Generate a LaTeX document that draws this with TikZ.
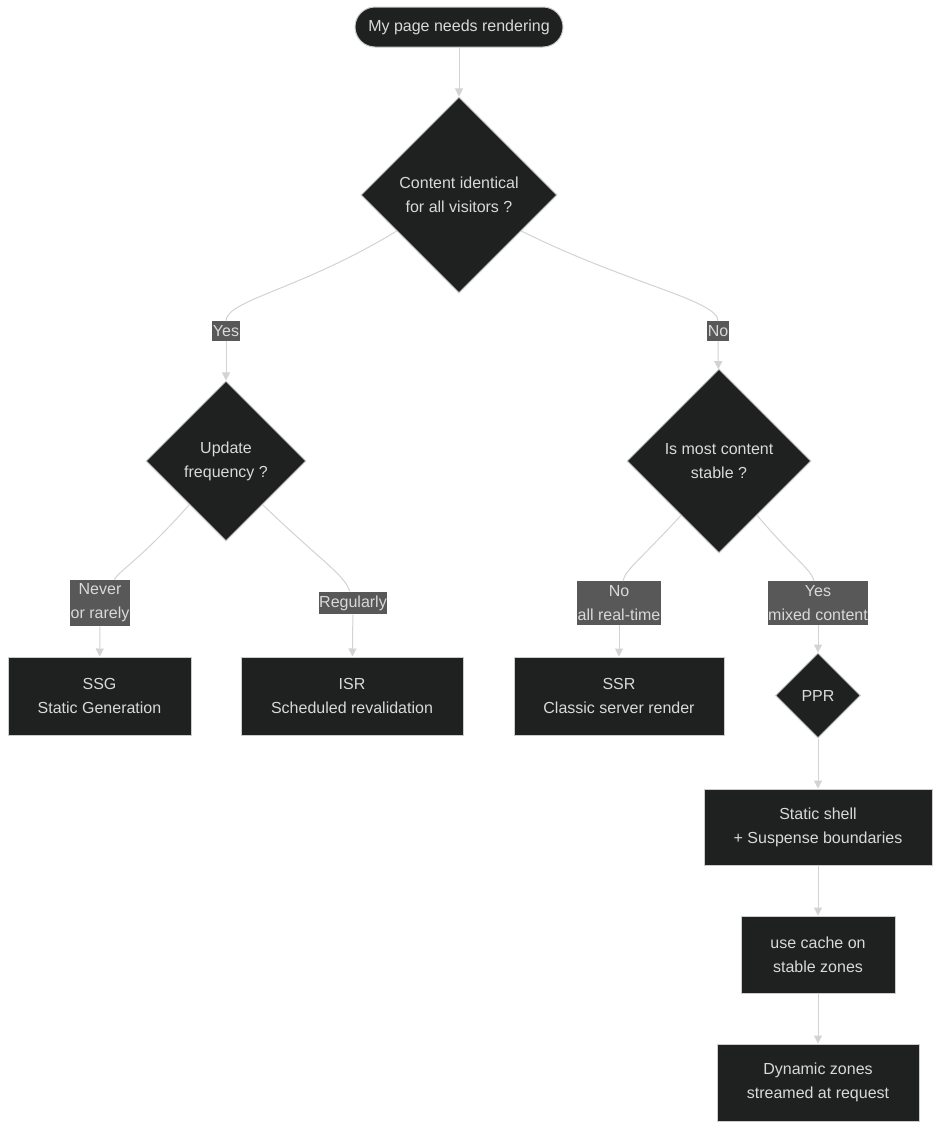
\documentclass[tikz,border=0pt]{standalone}
\usepackage{fontspec}
\setmainfont{Liberation Sans}
\usetikzlibrary{positioning,shapes.geometric,arrows.meta}
\definecolor{nodebg}{HTML}{1F2020}
\definecolor{nodeline}{HTML}{CCCCCC}
\definecolor{nodetext}{HTML}{D9D9D9}
\definecolor{labelbg}{HTML}{585858}
\definecolor{linkline}{HTML}{D3D3D3}

\begin{document}
\begin{tikzpicture}[
            x=0.75pt, y=-0.75pt,
            node distance=37.5pt,
            every node/.style={font=\fontsize{12}{18}\selectfont, text=nodetext, align=center},
            startnode/.style={rectangle, rounded corners=15pt, draw=nodeline, fill=nodebg, line width=0.75pt,
                              minimum width=156pt, minimum height=30pt},
            decision/.style={diamond, aspect=1, draw=nodeline, fill=nodebg, line width=0.75pt, inner sep=0pt},
            process/.style={rectangle, draw=nodeline, fill=nodebg, line width=0.75pt, minimum height=58.5pt},
            edgelabel/.style={rectangle, fill=labelbg, inner xsep=0.5pt, inner ysep=3pt},
            link/.style={draw=linkline, line width=0.75pt},
            arrow/.style={link, -{Triangle[length=6pt, width=6pt]}}
        ]
        \useasboundingbox[fill=white] (0,0) rectangle (941,1132);

        \node[startnode] (start) at (459,27) {My page needs rendering};
        \node[decision, minimum size=147pt] (content) at (459,195) {Content identical\\for all visitors ?};
        \node[decision, minimum size=120pt] (freq) at (226,461) {Update\\frequency ?};
        \node[decision, minimum size=138pt] (stable) at (719,461) {Is most content\\stable ?};
        \node[process, minimum width=137.25pt] (ssg) at (99.5,696) {SSG\\Static Generation};
        \node[process, minimum width=166.5pt] (isr) at (352,696) {ISR\\Scheduled revalidation};
        \node[process, minimum width=157.5pt] (ssr) at (619,696) {SSR\\Classic server render};
        \node[decision, minimum size=63.75pt] (ppr) at (818,695.5) {PPR};
        \node[process, minimum width=171pt, minimum height=57pt, below=of ppr] (shell) {Static shell\\+ Suspense boundaries};
        \node[process, minimum width=115.5pt, minimum height=57.75pt, below=of shell] (cache) {use cache on\\stable zones};
        \node[process, minimum width=151.5pt, minimum height=57.75pt, below=of cache] (dynamic) {Dynamic zones\\streamed at request};

        \node[edgelabel] (lyes) at (226,331) {Yes};
        \node[edgelabel] (lno) at (718,331) {No};
        \node[edgelabel] (lnever) at (100,603) {Never\\or rarely};
        \node[edgelabel] (lregular) at (353,603) {Regularly};
        \node[edgelabel] (lrealtime) at (619,603) {No\\all real-time};
        \node[edgelabel] (lmixed) at (818,603) {Yes\\mixed content};

        \draw[arrow] (start) -- (content);
        \draw[link] (content.210) .. controls (300,290) and (226,300) .. (lyes);
        \draw[arrow] (lyes) -- (freq);
        \draw[link] (content.330) .. controls (630,285) and (718,300) .. (lno);
        \draw[arrow] (lno) -- (stable);
        \draw[link] (freq.230) .. controls (140,560) and (120,570) .. (lnever);
        \draw[arrow] (lnever) -- (ssg);
        \draw[link] (freq.310) .. controls (320,560) and (345,575) .. (lregular);
        \draw[arrow] (lregular) -- (isr);
        \draw[link] (stable.235) .. controls (640,560) and (625,570) .. (lrealtime);
        \draw[arrow] (lrealtime) -- (ssr);
        \draw[link] (stable.305) .. controls (795,560) and (812,570) .. (lmixed);
        \draw[arrow] (lmixed) -- (ppr);
        \draw[arrow] (ppr) -- (shell);
        \draw[arrow] (shell) -- (cache);
        \draw[arrow] (cache) -- (dynamic);
        \end{tikzpicture}
\end{document}
